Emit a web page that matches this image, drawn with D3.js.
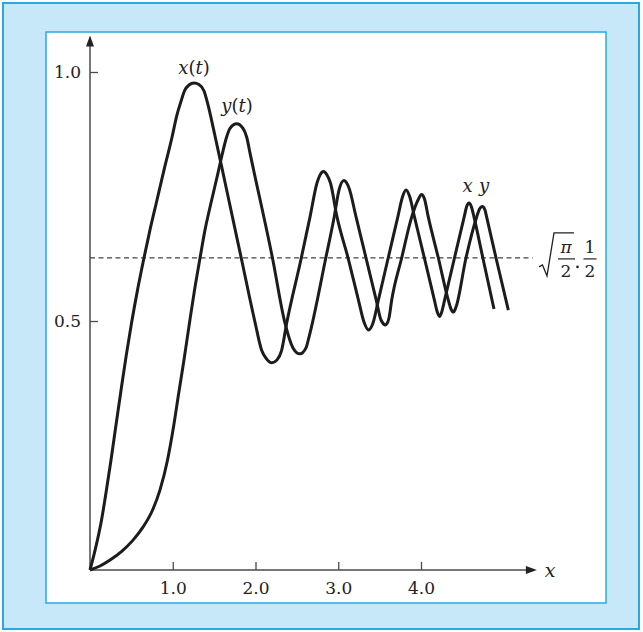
<!DOCTYPE html>
<html><head><meta charset="utf-8">
<script src="https://cdn.jsdelivr.net/npm/d3@7"></script>
<style>html,body{margin:0;padding:0;background:#fff}</style>
</head><body><svg id="c" width="643" height="632"></svg>
<script>
// ---- data ----
const xTicks = [1, 2, 3, 4];
const xTickLabels = ["1.0", "2.0", "3.0", "4.0"];
const yTicks = [0.5, 1.0];
const yTickLabels = ["0.5", "1.0"];
const limitValue = 0.6267; // sqrt(pi/2)/2

// x(t) curve: horizontal positions and values
const xCurveT = [0,0.073,0.139,0.199,0.254,0.314,0.375,0.439,0.502,0.574,0.649,0.725,0.801,0.894,0.991,1.051,1.094,1.142,1.196,1.257,1.317,1.378,1.420,1.514,1.595,1.680,1.831,1.996,2.073,2.133,2.199,2.260,2.314,2.377,2.550,2.659,2.743,2.779,2.822,2.864,2.906,2.985,3.118,3.244,3.311,3.366,3.420,3.485,3.604,3.720,3.776,3.819,3.861,3.921,4.040,4.162,4.193,4.224,4.254,4.285,4.405,4.522,4.550,4.580,4.610,4.640,4.747,4.882];
const xCurveV = [0,0.048,0.100,0.161,0.221,0.291,0.361,0.432,0.496,0.562,0.624,0.683,0.737,0.803,0.869,0.914,0.938,0.962,0.974,0.978,0.975,0.962,0.938,0.869,0.807,0.741,0.624,0.496,0.442,0.424,0.416,0.422,0.440,0.496,0.624,0.709,0.777,0.793,0.800,0.793,0.777,0.709,0.627,0.542,0.498,0.482,0.496,0.542,0.627,0.709,0.749,0.763,0.751,0.709,0.627,0.542,0.520,0.509,0.520,0.542,0.627,0.709,0.729,0.737,0.729,0.709,0.627,0.524];

// y(t) curve
const yCurveT = [0,0.121,0.242,0.387,0.520,0.640,0.755,0.846,0.937,1.009,1.072,1.136,1.202,1.263,1.327,1.390,1.462,1.541,1.601,1.650,1.692,1.773,1.849,1.894,1.934,2.208,2.356,2.453,2.538,2.610,2.647,2.850,2.951,3.009,3.069,3.130,3.215,3.335,3.459,3.517,3.573,3.613,3.646,3.767,3.888,3.970,4.006,4.042,4.088,4.209,4.330,4.363,4.393,4.423,4.544,4.673,4.707,4.741,4.773,4.793,4.906,5.055];
const yCurveV = [0,0.008,0.020,0.038,0.060,0.086,0.120,0.161,0.221,0.287,0.355,0.422,0.496,0.562,0.624,0.683,0.737,0.793,0.837,0.869,0.887,0.896,0.887,0.869,0.837,0.624,0.496,0.446,0.434,0.446,0.468,0.627,0.709,0.763,0.782,0.767,0.709,0.627,0.542,0.502,0.492,0.506,0.542,0.627,0.709,0.745,0.754,0.745,0.709,0.627,0.542,0.524,0.518,0.528,0.627,0.709,0.725,0.730,0.723,0.709,0.627,0.522];

// ---- drawing ----
const svg = d3.select("#c");
const ink = "#1c1c1c", axisCol = "#4a4a4a", frame = "#27aae3", fill = "#c7e8f8";
const serif = "'DejaVu Serif', serif";

svg.append("rect").attr("x",3).attr("y",3).attr("width",636).attr("height",626)
  .attr("fill",fill).attr("stroke",frame).attr("stroke-width",2);
svg.append("rect").attr("x",46).attr("y",32).attr("width",560).attr("height",571)
  .attr("fill","#fff").attr("stroke",frame).attr("stroke-width",1.5);

const x = d3.scaleLinear().domain([0, 5.4]).range([90, 90 + 5.4*82.75]);
const y = d3.scaleLinear().domain([0, 1]).range([570, 72]);

// axes lines with arrows
const g = svg.append("g");
g.append("line").attr("x1",x(0)).attr("x2",x(5.4)-8).attr("y1",y(0)).attr("y2",y(0))
  .attr("stroke",axisCol).attr("stroke-width",1.5);
g.append("line").attr("x1",x(0)).attr("x2",x(0)).attr("y1",y(0)).attr("y2",y(1.055))
  .attr("stroke",axisCol).attr("stroke-width",1.5);
const xe = x(5.4), ye = y(0);
g.append("path").attr("d",`M${xe},${ye} L${xe-11},${ye-4} L${xe-11},${ye+4} Z`).attr("fill","#222");
const ty = y(1.055) - 9, tx = x(0);
g.append("path").attr("d",`M${tx},${ty} L${tx-4},${ty+11} L${tx+4},${ty+11} Z`).attr("fill","#222");

// axes ticks via d3 axis
const xAxis = d3.axisBottom(x).tickValues(xTicks).tickFormat((d,i)=>xTickLabels[i])
  .tickSizeInner(-8).tickSizeOuter(0).tickPadding(12);
const gx = svg.append("g").attr("transform",`translate(0,${y(0)})`).call(xAxis);
gx.select(".domain").remove();
gx.selectAll("line").attr("stroke",axisCol).attr("stroke-width",1.3);
gx.selectAll("text").attr("font-family",serif).attr("font-size",17).attr("fill","#222");

const yAxis = d3.axisLeft(y).tickValues(yTicks).tickFormat((d,i)=>yTickLabels[i])
  .tickSizeInner(-8).tickSizeOuter(0).tickPadding(9);
const gy = svg.append("g").attr("transform",`translate(${x(0)},0)`).call(yAxis);
gy.select(".domain").remove();
gy.selectAll("line").attr("stroke",axisCol).attr("stroke-width",1.3);
gy.selectAll("text").attr("font-family",serif).attr("font-size",17).attr("fill","#222");

// dashed asymptote
svg.append("line").attr("x1",x(0)).attr("x2",x(5.35)).attr("y1",y(limitValue)).attr("y2",y(limitValue))
  .attr("stroke","#444").attr("stroke-width",1.2).attr("stroke-dasharray","5,3.5");

// curves
const line = d3.line().x(d=>x(d[0])).y(d=>y(d[1])).curve(d3.curveMonotoneX);
const xData = xCurveT.map((t,i)=>[t, xCurveV[i]]);
const yData = yCurveT.map((t,i)=>[t, yCurveV[i]]);
[xData, yData].forEach(dat=>{
  svg.append("path").datum(dat).attr("d",line).attr("fill","none")
    .attr("stroke",ink).attr("stroke-width",3).attr("stroke-linejoin","round").attr("stroke-linecap","butt");
});

// labels
function mathLabel(px, py, parts, size){
  const t = svg.append("text").attr("x",px).attr("y",py).attr("text-anchor","middle")
    .attr("font-family",serif).attr("font-size",size).attr("fill","#222");
  parts.forEach(p=>t.append("tspan").attr("font-style",p[1]?"italic":"normal").text(p[0]));
  return t;
}
mathLabel(194, 74, [["x",1],["(",0],["t",1],[")",0]], 18);
mathLabel(237, 112, [["y",1],["(",0],["t",1],[")",0]], 18);
mathLabel(467.5, 192, [["x",1]], 18);
mathLabel(484, 192, [["y",1]], 18);
mathLabel(550, 577, [["x",1]], 19);

// sqrt(pi/2) . 1/2
const ly = y(limitValue);
svg.append("path").attr("d",`M539,${ly+9} L542.5,${ly+7} L547,${ly+18} L554,${ly-25} L574,${ly-25}`)
  .attr("fill","none").attr("stroke","#222").attr("stroke-width",1.3);
mathLabel(566, ly-5, [["π",1]], 17);
svg.append("line").attr("x1",558).attr("x2",575).attr("y1",ly+1).attr("y2",ly+1).attr("stroke","#222").attr("stroke-width",1.2);
mathLabel(566, ly+19, [["2",0]], 17);
svg.append("circle").attr("cx",577.5).attr("cy",ly+9).attr("r",1.3).attr("fill","#222");
mathLabel(590, ly-5, [["1",0]], 17);
svg.append("line").attr("x1",583.5).attr("x2",596.5).attr("y1",ly+1).attr("y2",ly+1).attr("stroke","#222").attr("stroke-width",1.2);
mathLabel(590, ly+19, [["2",0]], 17);
</script>
</body></html>
